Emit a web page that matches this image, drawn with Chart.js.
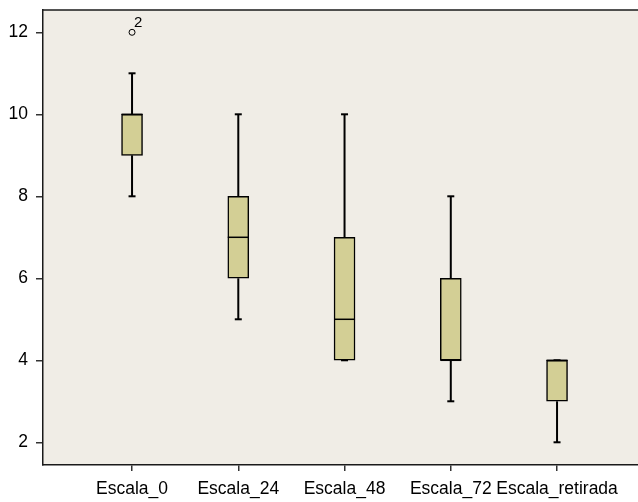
<!DOCTYPE html>
<html>
<head>
<meta charset="utf-8">
<script src="https://cdn.jsdelivr.net/npm/chart.js@4/dist/chart.umd.min.js"></script>
<style>
  html, body { margin: 0; padding: 0; background: #ffffff; }
  #wrap { width: 638px; height: 502px; }
</style>
</head>
<body>
<div id="wrap"><canvas id="chart" width="638" height="502"></canvas></div>
<script>
// Box plot summaries per scale
const categories = ['Escala_0', 'Escala_24', 'Escala_48', 'Escala_72', 'Escala_retirada'];
const whiskerLow  = [8, 5, 4, 3, 2];
const quartile1   = [9, 6, 4, 4, 3];
const medians     = [10, 7, 5, 4, 4];
const quartile3   = [10, 8, 7, 6, 4];
const whiskerHigh = [11, 10, 10, 8, 4];
// Outliers: category index, value, case label
const outlierIndex = [0];
const outlierValue = [12];
const outlierLabel = ['2'];
const yTicks = [2, 4, 6, 8, 10, 12];

const FONT = '"Liberation Sans", Arial, sans-serif';
const BOX_WIDTH = 21;

const boxData = categories.map((c, i) => ({ x: i, y: [quartile1[i], quartile3[i]] }));
const outlierData = outlierIndex.map((ci, k) => ({ x: ci, y: outlierValue[k] }));

const boxPlotPlugin = {
  id: 'boxPlotParts',
  beforeDraw(chart) {
    const { ctx, chartArea: a } = chart;
    ctx.save();
    ctx.fillStyle = '#f0ede6';
    ctx.fillRect(a.left, a.top, a.right - a.left, a.bottom - a.top);
    // frame line along the top
    ctx.strokeStyle = '#1a1a1a';
    ctx.lineWidth = 1.5;
    ctx.beginPath();
    ctx.moveTo(a.left, a.top);
    ctx.lineTo(a.right, a.top);
    ctx.stroke();
    ctx.restore();
  },
  beforeDatasetsDraw(chart) {
    const { ctx, scales: { x, y } } = chart;
    ctx.save();
    ctx.strokeStyle = '#000';
    ctx.lineWidth = 2;
    categories.forEach((c, i) => {
      const px = x.getPixelForValue(i);
      const segs = [[whiskerHigh[i], quartile3[i]], [whiskerLow[i], quartile1[i]]];
      segs.forEach(([from, to]) => {
        const y1 = y.getPixelForValue(from), y2 = y.getPixelForValue(to);
        ctx.beginPath();
        ctx.moveTo(px, y1);
        ctx.lineTo(px, y2);
        ctx.stroke();
        ctx.beginPath();
        ctx.moveTo(px - 3.5, y1);
        ctx.lineTo(px + 3.5, y1);
        ctx.stroke();
      });
    });
    ctx.restore();
  },
  afterDatasetsDraw(chart) {
    const { ctx, scales: { x, y } } = chart;
    ctx.save();
    ctx.strokeStyle = '#000';
    ctx.lineWidth = 1.5;
    categories.forEach((c, i) => {
      const px = x.getPixelForValue(i);
      const py = y.getPixelForValue(medians[i]);
      ctx.beginPath();
      ctx.moveTo(px - BOX_WIDTH / 2, py);
      ctx.lineTo(px + BOX_WIDTH / 2, py);
      ctx.stroke();
    });
    ctx.fillStyle = '#000';
    ctx.font = '15px ' + FONT;
    ctx.textAlign = 'left';
    ctx.textBaseline = 'alphabetic';
    outlierIndex.forEach((ci, k) => {
      const px = x.getPixelForValue(ci);
      const py = y.getPixelForValue(outlierValue[k]);
      ctx.fillText(outlierLabel[k], px + 2, py - 5);
    });
    ctx.restore();
  }
};

new Chart(document.getElementById('chart'), {
  type: 'bar',
  data: {
    datasets: [
      {
        type: 'bar',
        data: boxData,
        backgroundColor: '#d3cf95',
        borderColor: '#000',
        borderWidth: 1.5,
        borderSkipped: false,
        barThickness: BOX_WIDTH,
        order: 2
      },
      {
        type: 'scatter',
        data: outlierData,
        pointStyle: 'circle',
        pointRadius: 3,
        pointBackgroundColor: 'rgba(0,0,0,0)',
        pointBorderColor: '#000',
        pointBorderWidth: 1,
        order: 1
      }
    ]
  },
  options: {
    responsive: false,
    animation: false,
    devicePixelRatio: 1,
    layout: { autoPadding: false, padding: { top: 10, right: 0, left: 0, bottom: 0 } },
    plugins: { legend: { display: false }, tooltip: { enabled: false } },
    scales: {
      x: {
        type: 'linear',
        min: -0.838,
        max: 4.762,
        offset: false,
        afterBuildTicks(scale) { scale.ticks = categories.map((c, i) => ({ value: i })); },
        afterFit(scale) {
          scale.height = 37;
          scale.paddingLeft = 0;
          scale.paddingRight = 0;
        },
        grid: { offset: false, drawOnChartArea: false, drawTicks: true, tickLength: 6, color: '#333', lineWidth: 1.5 },
        border: { display: true, color: '#1a1a1a', width: 1.5 },
        ticks: {
          color: '#000',
          font: { family: FONT, size: 17.5 },
          padding: 8,
          maxRotation: 0,
          autoSkip: false,
          callback: (v) => categories[v] ?? ''
        }
      },
      y: {
        type: 'linear',
        min: 1.446,
        max: 12.544,
        afterBuildTicks(scale) { scale.ticks = yTicks.map(v => ({ value: v })); },
        afterFit(scale) {
          scale.width = 43;
          scale.paddingTop = 0;
          scale.paddingBottom = 0;
        },
        grid: { drawOnChartArea: false, drawTicks: true, tickLength: 7, color: '#333', lineWidth: 1.5 },
        border: { display: true, color: '#1a1a1a', width: 1.5 },
        ticks: {
          color: '#000',
          font: { family: FONT, size: 17.5 },
          padding: 8,
          callback: (v) => String(v)
        }
      }
    }
  },
  plugins: [boxPlotPlugin]
});
</script>
</body>
</html>
